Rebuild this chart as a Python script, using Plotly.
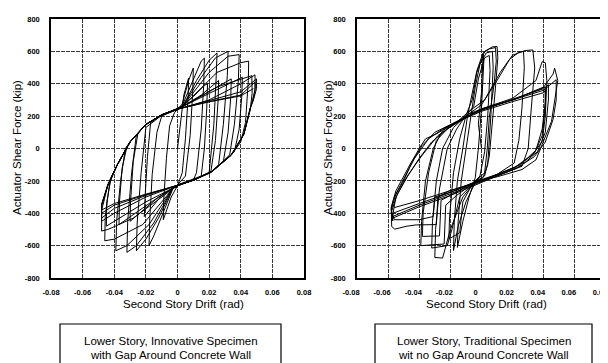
import plotly.graph_objects as go

# ---------------- data ----------------
drift_ticks = [-0.08, -0.06, -0.04, -0.02, 0, 0.02, 0.04, 0.06, 0.08]
drift_labels = ["-0.08", "-0.06", "-0.04", "-0.02", "0", "0.02", "0.04", "0.06", "0.08"]
force_ticks = [-800, -600, -400, -200, 0, 200, 400, 600, 800]
force_labels = ["-800", "-600", "-400", "-200", "0", "200", "400", "600", "800"]

x_title = "Second Story Drift (rad)"
y_title = "Actuator Shear Force (kip)"
left_caption = ["Lower Story, Innovative Specimen", "with Gap Around Concrete Wall"]
right_caption = ["Lower Story, Traditional Specimen", "wit no Gap Around Concrete Wall"]

# Innovative specimen: hysteresis path (drift rad, force kip)
left_path = [
    (0.000, 0), (0.002, 180), (0.004, 330), (0.007, 435), (0.0068, 330), (0.005, 60), (0.003, -150),
    (0.000, -230), (-0.004, -300), (-0.009, -440),
    (-0.0088, -330), (-0.007, -60), (-0.005, 140), (-0.002, 220), (0.003, 275), (0.007, 420), (0.010, 497),
    (0.0097, 360), (0.008, 80), (0.005, -170), (0.000, -225), (-0.003, -250), (-0.010, -420), (-0.015, -540), (-0.018, -600),
    (-0.0176, -450), (-0.016, -160), (-0.013, 100), (-0.010, 200), (-0.003, 230), (0.003, 265), (0.010, 430), (0.015, 540), (0.017, 558),
    (0.0166, 400), (0.015, 120), (0.012, -150), (0.010, -195), (0.000, -225), (-0.003, -245), (-0.012, -430), (-0.020, -560), (-0.026, -632),
    (-0.0255, -460), (-0.023, -150), (-0.020, 130), (-0.010, 205), (0.000, 240), (0.010, 320), (0.017, 390), (0.019, 400),
    (0.0185, 250), (0.017, 0), (0.015, -170), (0.000, -225), (-0.010, -290), (-0.019, -400), (-0.021, -420),
    (-0.0205, -300), (-0.019, -50), (-0.017, 160), (-0.010, 210), (0.003, 255), (0.012, 420), (0.020, 545), (0.025, 590),
    (0.0245, 450), (0.023, 150), (0.020, -150), (0.010, -195), (0.000, -228), (-0.003, -245), (-0.015, -460), (-0.026, -600), (-0.032, -642),
    (-0.0315, -450), (-0.029, -150), (-0.026, 85), (-0.020, 148), (-0.010, 205), (0.003, 258), (0.015, 330), (0.026, 420),
    (0.0257, 300), (0.024, 50), (0.021, -150), (0.010, -196), (0.000, -228), (-0.012, -300), (-0.026, -420), (-0.030, -450),
    (-0.0297, -330), (-0.028, -80), (-0.025, 95), (-0.020, 148), (-0.010, 206), (0.003, 258), (0.015, 440), (0.024, 560), (0.032, 600),
    (0.0315, 450), (0.029, 150), (0.026, -100), (0.022, -140), (0.010, -195), (0.000, -228), (-0.003, -245), (-0.018, -470), (-0.032, -600), (-0.039, -632),
    (-0.0385, -450), (-0.036, -200), (-0.033, 0), (-0.030, 40), (-0.020, 148), (-0.010, 207), (0.003, 258), (0.018, 340), (0.034, 430),
    (0.0337, 320), (0.032, 100), (0.029, -80), (0.022, -142), (0.010, -196), (0.000, -229), (-0.015, -320), (-0.032, -440), (-0.037, -470),
    (-0.0367, -330), (-0.035, -120), (-0.032, 10), (-0.030, 40), (-0.020, 148), (-0.010, 207), (0.003, 258), (0.020, 470), (0.032, 570), (0.039, 580),
    (0.0385, 420), (0.036, 150), (0.033, -40), (0.022, -140), (0.010, -195), (0.000, -230), (-0.003, -248), (-0.022, -470), (-0.040, -560), (-0.046, -570),
    (-0.0457, -420), (-0.043, -220), (-0.040, -140), (-0.038, -100), (-0.030, 40), (-0.020, 148), (-0.010, 207), (0.003, 258), (0.020, 340), (0.041, 440),
    (0.0407, 330), (0.039, 120), (0.036, -20), (0.022, -141), (0.010, -196), (0.000, -230), (-0.020, -330), (-0.040, -450), (-0.045, -480),
    (-0.0447, -330), (-0.042, -180), (-0.038, -100), (-0.030, 40), (-0.020, 148), (-0.010, 207), (0.003, 258), (0.025, 470), (0.040, 530), (0.045, 540),
    (0.0448, 420), (0.043, 160), (0.040, 40), (0.034, -40), (0.022, -140), (0.010, -195), (0.000, -230), (-0.003, -250), (-0.028, -430), (-0.044, -500), (-0.048, -510),
    (-0.048, -350), (-0.044, -225), (-0.038, -100), (-0.030, 40), (-0.020, 148), (-0.010, 207), (0.003, 258), (0.025, 380), (0.047, 450),
    (0.0472, 340), (0.046, 240), (0.042, 90), (0.034, -40), (0.022, -140), (0.010, -195), (0.000, -227), (-0.020, -300), (-0.040, -400), (-0.048, -450),
    (-0.048, -350), (-0.044, -225), (-0.038, -100), (-0.030, 40), (-0.020, 148), (-0.010, 207), (0.000, 242), (0.020, 300), (0.040, 400), (0.049, 455),
    (0.0492, 380), (0.048, 300), (0.046, 250), (0.042, 90), (0.034, -40), (0.022, -140), (0.010, -195), (0.000, -227), (-0.020, -290), (-0.040, -370), (-0.048, -430),
    (-0.048, -350), (-0.044, -225), (-0.038, -100), (-0.030, 40), (-0.020, 148), (-0.010, 207), (0.000, 242), (0.020, 295), (0.040, 350), (0.050, 430),
    (0.050, 370), (0.048, 300), (0.046, 250), (0.042, 90), (0.034, -40), (0.022, -140), (0.010, -195), (0.000, -227), (-0.020, -285), (-0.040, -350), (-0.048, -400),
    (-0.048, -345), (-0.044, -222), (-0.038, -98), (-0.030, 42), (-0.020, 150), (-0.010, 208), (0.000, 244), (0.020, 290), (0.040, 330), (0.049, 410),
    (0.049, 360), (0.047, 280), (0.046, 250), (0.042, 88), (0.034, -42), (0.022, -142), (0.010, -197), (0.000, -228), (-0.020, -282), (-0.040, -340), (-0.048, -380),
    (-0.047, -345), (-0.044, -222), (-0.038, -98), (-0.030, 42), (-0.020, 150), (-0.010, 208), (0.000, 244), (0.020, 288), (0.040, 325), (0.048, 370),
]

# Traditional specimen: hysteresis path (drift rad, force kip)
right_path = [
    (0.000, 0), (-0.002, 150), (0.000, 350), (0.001, 577), (0.0015, 540), (0.000, 250), (-0.002, 0), (-0.004, -180),
    (-0.008, -300), (-0.012, -450), (-0.0155, -611),
    (-0.015, -450), (-0.013, -200), (-0.010, 0), (-0.007, 210), (-0.004, 380), (-0.001, 520), (0.003, 590), (0.007, 600),
    (0.0075, 500), (0.006, 200), (0.004, -100), (0.001, -180), (-0.004, -210), (-0.010, -330), (-0.015, -480), (-0.018, -630),
    (-0.0175, -450), (-0.0155, -200), (-0.012, 0), (-0.009, 200), (-0.006, 330), (-0.003, 480), (0.001, 590), (0.005, 615), (0.009, 624),
    (0.0095, 540), (0.008, 390), (0.005, 190), (0.0037, 0), (0.002, -150), (-0.004, -205), (-0.012, -300), (-0.020, -500),
    (-0.024, -640), (-0.025, -677), (-0.030, -673),
    (-0.0295, -500), (-0.027, -250), (-0.022, 0), (-0.016, 120), (-0.010, 205), (-0.006, 300), (-0.003, 470), (0.002, 600), (0.007, 628), (0.010, 630),
    (0.0105, 560), (0.009, 380), (0.007, 150), (0.005, -50), (0.002, -170), (-0.004, -205), (-0.014, -300), (-0.019, -500), (-0.022, -600), (-0.032, -615),
    (-0.0315, -450), (-0.029, -200), (-0.025, 0), (-0.018, 130), (-0.010, 200), (-0.005, 260), (-0.002, 430), (0.002, 560), (0.005, 575),
    (0.0055, 480), (0.004, 200), (0.002, -20), (-0.001, -170), (-0.006, -220), (-0.012, -330), (-0.014, -520), (-0.021, -560),
    (-0.0205, -420), (-0.018, -150), (-0.014, 60), (-0.010, 200), (0.000, 270), (0.010, 420), (0.018, 550), (0.024, 595), (0.027, 599),
    (0.0275, 500), (0.026, 250), (0.024, 50), (0.021, -90), (0.010, -160), (-0.004, -205), (-0.016, -290), (-0.023, -350), (-0.024, -590), (-0.039, -600),
    (-0.0385, -450), (-0.036, -200), (-0.031, 0), (-0.025, 110), (-0.015, 170), (-0.008, 230), (0.002, 300), (0.012, 470), (0.020, 577), (0.028, 605), (0.033, 609),
    (0.0342, 497), (0.032, 250), (0.030, 0), (0.026, -110), (0.015, -150), (0.000, -195), (-0.004, -205), (-0.020, -290), (-0.026, -320), (-0.027, -540), (-0.038, -543),
    (-0.0375, -400), (-0.034, -150), (-0.029, 50), (-0.020, 140), (-0.010, 195), (0.000, 245), (0.020, 310), (0.035, 420), (0.039, 537),
    (0.041, 530), (0.042, 420), (0.041, 200), (0.039, 45), (0.033, -37), (0.021, -119), (0.000, -200), (-0.021, -263), (-0.028, -300),
    (-0.029, -470), (-0.042, -472), (-0.048, -480), (-0.0557, -498), (-0.0577, -482), (-0.058, -362),
    (-0.055, -261), (-0.049, -150), (-0.046, -100), (-0.040, 0), (-0.036, 60), (-0.029, 90), (-0.021, 137), (-0.012, 178), (-0.002, 235),
    (0.020, 300), (0.040, 380), (0.046, 460), (0.047, 496), (0.049, 420), (0.047, 300), (0.045, 168), (0.039, 25), (0.035, -70),
    (0.026, -130), (0.010, -175), (-0.004, -205), (-0.021, -275), (-0.040, -340), (-0.057, -400), (-0.057, -447), (-0.058, -370),
    (-0.056, -300), (-0.050, -200), (-0.045, -90), (-0.038, 20), (-0.030, 100), (-0.020, 150), (-0.010, 195), (0.000, 240),
    (0.020, 300), (0.040, 360), (0.048, 425), (0.048, 300), (0.046, 180), (0.041, 40), (0.034, -50), (0.022, -125), (0.000, -205),
    (-0.020, -280), (-0.040, -350), (-0.057, -420), (-0.058, -380), (-0.055, -280), (-0.049, -170), (-0.043, -60), (-0.034, 60),
    (-0.025, 120), (-0.012, 185), (0.000, 235), (0.020, 305), (0.040, 370), (0.043, 394), (0.043, 300), (0.041, 100), (0.036, -20),
    (0.025, -110), (0.000, -210), (-0.020, -290), (-0.040, -360), (-0.057, -430), (-0.058, -395), (-0.054, -280), (-0.047, -160),
    (-0.038, -40), (-0.028, 80), (-0.018, 150), (-0.008, 215), (0.002, 250), (0.020, 300), (0.041, 380), (0.041, 290), (0.039, 120),
    (0.035, -10), (0.025, -100), (0.000, -200), (-0.020, -270), (-0.030, -300), (-0.031, -420), (-0.040, -440), (-0.056, -440),
    (-0.057, -410), (-0.055, -300), (-0.048, -180), (-0.040, -60), (-0.032, 40), (-0.022, 120), (-0.012, 180), (0.000, 230),
    (0.020, 290), (0.040, 345), (0.041, 360), (0.041, 260), (0.039, 80), (0.034, -30), (0.022, -115), (0.000, -198), (-0.020, -262),
    (-0.040, -322), (-0.056, -365),
]

# ---------------- figure ----------------
W, H = 608, 363
FONT = "Liberation Sans, Arial, sans-serif"

fig = go.Figure()
for path, xa, ya in [(left_path, "x", "y"), (right_path, "x2", "y2")]:
    fig.add_trace(go.Scatter(
        x=[p[0] for p in path], y=[p[1] for p in path],
        mode="lines", line=dict(color="#000", width=1),
        xaxis=xa, yaxis=ya, showlegend=False, hoverinfo="skip"))

def px(v):
    return v / W

def py(v):
    return 1 - v / H

ax_common = dict(
    showgrid=True, gridcolor="#3a3a3a", gridwidth=1, griddash="4px,1px",
    zeroline=False, showline=True, linecolor="black", linewidth=1.5, mirror=True,
    ticks="", automargin=False, ticklabeloverflow="allow",
    tickfont=dict(family=FONT, size=7.5, color="black", weight="bold"),
)
fig.update_layout(
    width=W, height=H, margin=dict(l=0, r=0, t=0, b=0, autoexpand=False),
    paper_bgcolor="white", plot_bgcolor="white",
    xaxis=dict(domain=[px(43), px(296)], range=[-0.08, 0.08], tickvals=drift_ticks,
               ticktext=drift_labels, anchor="y", ticklabelstandoff=6, **ax_common),
    yaxis=dict(domain=[py(270), py(11)], range=[-800, 800], tickvals=force_ticks,
               ticktext=force_labels, anchor="x", ticklabelstandoff=8, **ax_common),
    xaxis2=dict(domain=[px(349), px(598)], range=[-0.08, 0.08], tickvals=drift_ticks,
                ticktext=drift_labels, anchor="y2", ticklabelstandoff=6, ticklabelshift=-6,
                **ax_common),
    yaxis2=dict(domain=[py(270), py(11)], range=[-800, 800], tickvals=force_ticks,
                ticktext=force_labels, anchor="x2", ticklabelstandoff=8, **ax_common),
)

ann = []
tfont = dict(family=FONT, size=11.5, color="black")
for cx in (175, 478):
    ann.append(dict(x=px(cx), y=py(296), xref="paper", yref="paper", text=x_title,
                    showarrow=False, font=tfont, xanchor="center", yanchor="middle"))
for cx in (9, 320):
    ann.append(dict(x=px(cx), y=py(140), xref="paper", yref="paper", text=y_title,
                    showarrow=False, font=tfont, textangle=-90, xanchor="center", yanchor="middle"))
for (x0, x1), lines in [((52, 273), left_caption), ((367, 584), right_caption)]:
    cx = (x0 + x1) / 2
    for i, t in enumerate(lines):
        ann.append(dict(x=px(cx), y=py(333 + 14 * i), xref="paper", yref="paper", text=t,
                        showarrow=False, font=tfont, xanchor="center", yanchor="middle"))
    fig.add_shape(type="rect", xref="paper", yref="paper", x0=px(x0), x1=px(x1),
                  y0=py(368), y1=py(316), line=dict(color="black", width=1.2))
fig.update_layout(annotations=ann)

fig.write_html("out.html")
